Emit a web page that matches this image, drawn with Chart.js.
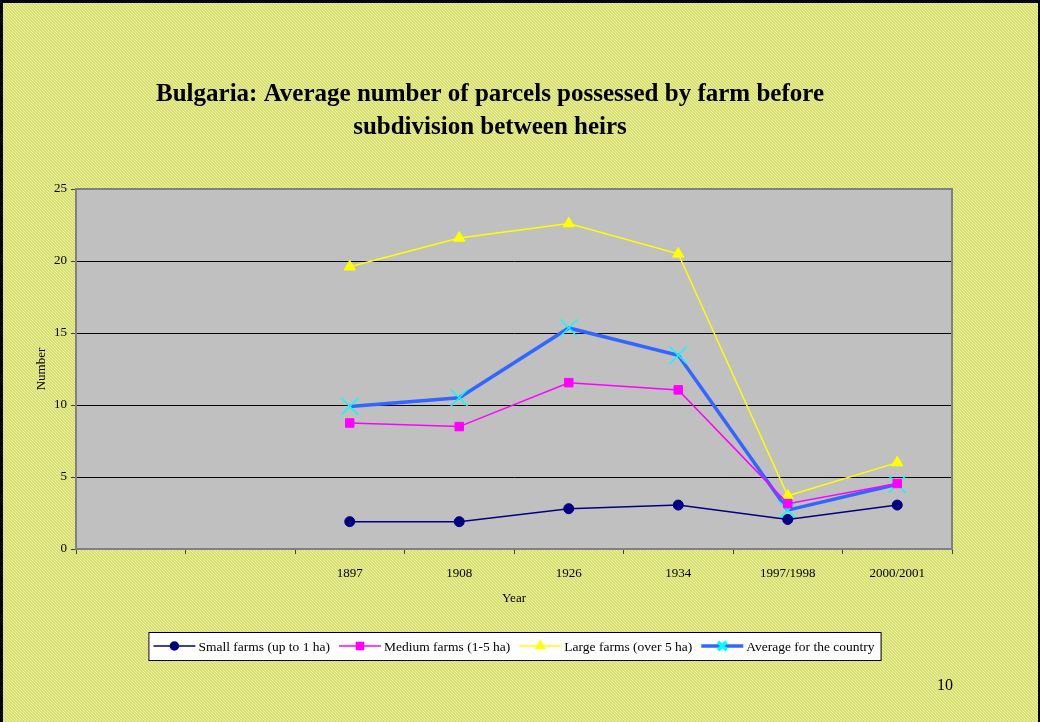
<!DOCTYPE html>
<html>
<head>
<meta charset="utf-8">
<script src="https://cdn.jsdelivr.net/npm/chart.js@4.4.1/dist/chart.umd.min.js"></script>
<style>
  html, body { margin: 0; padding: 0; background: #dce37c; }
  canvas { display: block; }
</style>
</head>
<body>
<canvas id="chart" width="1040" height="722"></canvas>
<script>
// data (first two categories are empty on the original)
const years = ['', '', '1897', '1908', '1926', '1934', '1997/1998', '2000/2001'];
const smallFarms = [null, null, 1.9, 1.9, 2.8, 3.05, 2.05, 3.05];
const mediumFarms = [null, null, 8.75, 8.5, 11.55, 11.05, 3.15, 4.55];
const largeFarms = [null, null, 19.6, 21.6, 22.6, 20.5, 3.7, 6.0];
const countryAverage = [null, null, 9.9, 10.5, 15.35, 13.45, 2.7, 4.5];
const yTicks = [0, 5, 10, 15, 20, 25];

const serif = 'Liberation Serif, Times New Roman, serif';

// dotted yellow slide background
function slidePattern(ctx) {
  const c = document.createElement('canvas');
  c.width = 3; c.height = 3;
  const p = c.getContext('2d');
  p.fillStyle = '#d6de6c';
  p.fillRect(0, 0, 3, 3);
  p.fillStyle = '#eef1ad';
  p.fillRect(0, 0, 1, 1);
  p.fillRect(1, 1, 1, 1);
  p.fillRect(2, 2, 1, 1);
  return ctx.createPattern(c, 'repeat');
}

const slidePlugin = {
  id: 'slide',
  beforeDraw(chart) {
    const ctx = chart.ctx;
    const a = chart.chartArea;
    ctx.save();
    ctx.fillStyle = slidePattern(ctx);
    ctx.fillRect(0, 0, chart.width, chart.height);
    // slide frame
    ctx.strokeStyle = '#000';
    ctx.lineWidth = 3;
    ctx.strokeRect(1.5, 1.5, chart.width - 2, chart.height + 5);
    // plot area
    ctx.fillStyle = '#c0c0c0';
    ctx.fillRect(a.left, a.top, a.right - a.left, a.bottom - a.top);
    ctx.restore();
  },
  afterDatasetsDraw(chart) {
    const ctx = chart.ctx;
    const a = chart.chartArea;
    ctx.save();
    ctx.strokeStyle = '#808080';
    ctx.lineWidth = 2;
    ctx.beginPath();
    ctx.moveTo(a.left, a.top);
    ctx.lineTo(a.right, a.top);
    ctx.lineTo(a.right, a.bottom);
    ctx.stroke();
    ctx.restore();
  },
  afterDraw(chart) {
    const ctx = chart.ctx;
    const a = chart.chartArea;
    ctx.save();
    ctx.font = '13.5px ' + serif;
    ctx.textBaseline = 'middle';
    const items = chart.data.datasets.map(ds => ({ ds, w: ctx.measureText(ds.label).width }));
    const lineW = 42, gap = 3, sep = 9;
    let total = 0;
    items.forEach(it => { total += lineW + gap + it.w + sep; });
    total -= sep;
    const boxY = 632, boxH = 28;
    let x = (a.left + a.right) / 2 - total / 2;
    ctx.fillStyle = '#fff';
    ctx.fillRect(x - 5, boxY, total + 11, boxH);
    ctx.strokeStyle = '#000';
    ctx.lineWidth = 1;
    ctx.strokeRect(x - 5 + 0.5, boxY + 0.5, total + 11, boxH);
    const cy = boxY + boxH / 2;
    items.forEach(it => {
      const ds = it.ds;
      ctx.strokeStyle = ds.borderColor;
      ctx.lineWidth = ds.borderWidth;
      ctx.beginPath();
      ctx.moveTo(x, cy);
      ctx.lineTo(x + lineW, cy);
      ctx.stroke();
      ctx.fillStyle = ds.pointBackgroundColor;
      ctx.strokeStyle = ds.pointBorderColor;
      Chart.helpers.drawPoint(ctx, {
        pointStyle: ds.pointStyle,
        radius: ds.legendRadius,
        rotation: 0,
        borderWidth: ds.pointBorderWidth
      }, x + lineW / 2, cy);
      ctx.fillStyle = '#000';
      ctx.textAlign = 'left';
      ctx.fillText(ds.label, x + lineW + gap, cy + 1);
      x += lineW + gap + it.w + sep;
    });
    // slide number
    ctx.font = '16px ' + serif;
    ctx.textAlign = 'right';
    ctx.fillText('10', 953, 686);
    ctx.restore();
  }
};

new Chart(document.getElementById('chart'), {
  type: 'line',
  data: {
    labels: years,
    datasets: [{
      label: 'Small farms (up to 1 ha)',
      data: smallFarms,
      borderColor: '#000080',
      borderWidth: 1.5,
      pointStyle: 'circle',
      pointRadius: 5,
      legendRadius: 4,
      pointBackgroundColor: '#000080',
      pointBorderColor: '#000080',
      pointBorderWidth: 1
    }, {
      label: 'Medium farms (1-5 ha)',
      data: mediumFarms,
      borderColor: '#ff00ff',
      borderWidth: 1.5,
      pointStyle: 'rect',
      pointRadius: 6,
      legendRadius: 5,
      pointBackgroundColor: '#ff00ff',
      pointBorderColor: '#ff00ff',
      pointBorderWidth: 1
    }, {
      label: 'Large farms (over 5 ha)',
      data: largeFarms,
      borderColor: '#ffff00',
      borderWidth: 1.5,
      pointStyle: 'triangle',
      pointRadius: 6.5,
      legendRadius: 5,
      pointBackgroundColor: '#ffff00',
      pointBorderColor: '#ffff00',
      pointBorderWidth: 1
    }, {
      label: 'Average for the country',
      data: countryAverage,
      borderColor: '#3366ff',
      borderWidth: 3.5,
      pointStyle: 'crossRot',
      pointRadius: 12,
      legendRadius: 6,
      pointBackgroundColor: '#00ffff',
      pointBorderColor: '#00ffff',
      pointBorderWidth: 1.5
    }]
  },
  options: {
    responsive: false,
    animation: false,
    layout: { padding: { left: 28, right: 88, top: 0, bottom: 113 } },
    elements: { line: { tension: 0 } },
    plugins: {
      legend: { display: false },
      tooltip: { enabled: false },
      title: {
        display: true,
        text: ['Bulgaria: Average number of parcels possessed by farm before', 'subdivision between heirs'],
        color: '#000',
        font: { family: serif, size: 25, weight: 'bold', lineHeight: 1.32 },
        padding: { top: 78, bottom: 45 }
      }
    },
    scales: {
      x: {
        offset: true,
        afterFit(scale) { scale.height = 60; },
        grid: {
          offset: true,
          drawOnChartArea: false,
          drawTicks: true,
          tickLength: 5,
          tickColor: '#404040'
        },
        border: { color: '#808080', width: 2 },
        ticks: { color: '#000', font: { family: serif, size: 13 }, padding: 12, maxRotation: 0, autoSkip: false },
        title: { display: true, text: 'Year', color: '#000', font: { family: serif, size: 13 }, padding: { top: 4, bottom: 3 } }
      },
      y: {
        min: 0,
        max: 25,
        afterFit(scale) { scale.width = 48; },
        afterBuildTicks(scale) { scale.ticks = yTicks.map(v => ({ value: v })); },
        grid: {
          color: ctx => (ctx.tick.value === 0 || ctx.tick.value === 25) ? 'rgba(0,0,0,0)' : '#000',
          tickColor: '#404040',
          tickLength: 5,
          lineWidth: 1
        },
        border: { color: '#808080', width: 2 },
        ticks: { color: '#000', font: { family: serif, size: 13 }, padding: 4 },
        title: { display: true, text: 'Number', color: '#000', font: { family: serif, size: 13 }, padding: { top: 6, bottom: 0 } }
      }
    }
  },
  plugins: [slidePlugin]
});
</script>
</body>
</html>
